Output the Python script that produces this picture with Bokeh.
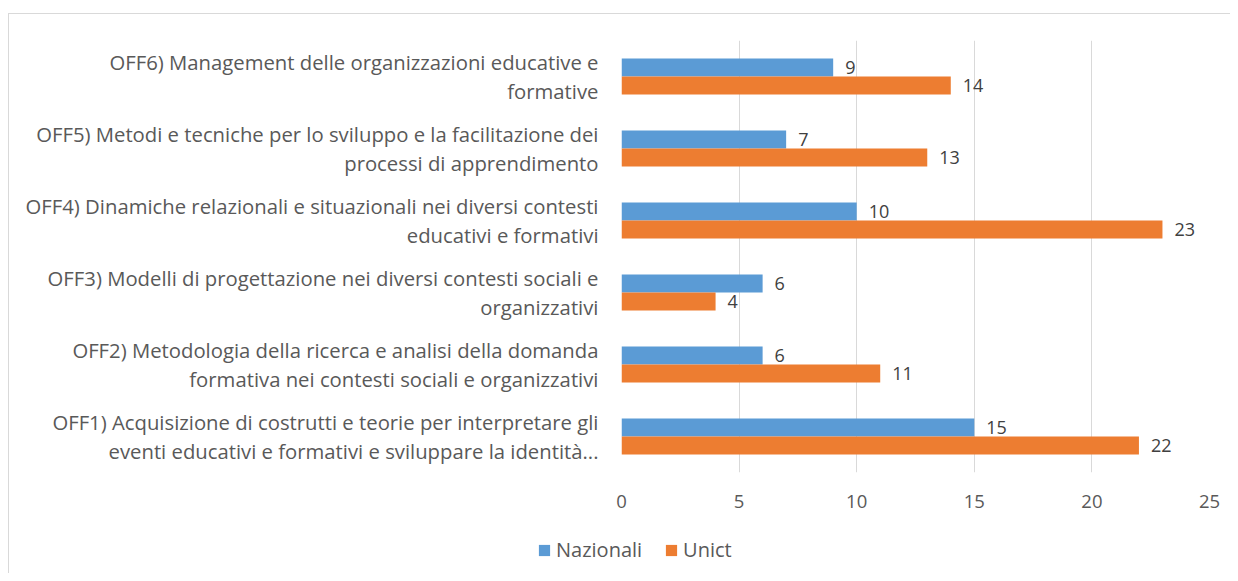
from bokeh.plotting import figure
from bokeh.models import ColumnDataSource, Legend, LegendItem, FactorRange, SingleIntervalTicker, InlineStyleSheet
from bokeh.transform import dodge
from bokeh.embed import file_html
from bokeh.resources import INLINE

categories = [
    "OFF1) Acquisizione di costrutti e teorie per interpretare gli\neventi educativi e formativi e sviluppare la identità...",
    "OFF2) Metodologia della ricerca e analisi della domanda\nformativa nei contesti sociali e organizzativi",
    "OFF3) Modelli di progettazione nei diversi contesti sociali e\norganizzativi",
    "OFF4) Dinamiche relazionali e situazionali nei diversi contesti\neducativi e formativi",
    "OFF5) Metodi e tecniche per lo sviluppo e la facilitazione dei\nprocessi di apprendimento",
    "OFF6) Management delle organizzazioni educative e\nformative",
]
nazionali = [15, 6, 6, 10, 7, 9]
unict = [22, 11, 4, 23, 13, 14]
series_names = ["Nazionali", "Unict"]
series_colors = ["#5B9BD5", "#ED7D31"]

FONT = "Open Sans"
TXT = "#595959"

src = ColumnDataSource(dict(
    cat=categories,
    naz=nazionali,
    uni=unict,
    naz_l=[str(v) for v in nazionali],
    uni_l=[str(v) for v in unict],
))

frame_css_top = InlineStyleSheet(css=":host::after{content:'';position:absolute;left:8px;top:13px;right:0;bottom:0;"
                                     "border-top:1px solid #d9d9d9;border-left:1px solid #d9d9d9;pointer-events:none;}")
frame_css_side = InlineStyleSheet(css=":host::after{content:'';position:absolute;left:8px;top:0;right:0;bottom:0;"
                                      "border-left:1px solid #d9d9d9;pointer-events:none;}")

p = figure(width=1230, height=525, output_backend="svg", toolbar_location=None,
           y_range=FactorRange(factors=categories, range_padding=0),
           x_range=(0, 25),
           min_border_left=621, min_border_right=21, min_border_top=40, min_border_bottom=53,
           stylesheets=[frame_css_top])

p.hbar(y=dodge("cat", 0.125, range=p.y_range), right="naz", left=0, height=0.25,
       source=src, fill_color=series_colors[0], line_color=None)
p.hbar(y=dodge("cat", -0.125, range=p.y_range), right="uni", left=0, height=0.25,
       source=src, fill_color=series_colors[1], line_color=None)

p.text(x="naz", y=dodge("cat", 0.125, range=p.y_range), text="naz_l", source=src,
       x_offset=12, text_baseline="middle", text_font_size="18px", text_color="#404040",
       text_font={"value": FONT})
p.text(x="uni", y=dodge("cat", -0.125, range=p.y_range), text="uni_l", source=src,
       x_offset=12, text_baseline="middle", text_font_size="18px", text_color="#404040",
       text_font={"value": FONT})

p.outline_line_color = None
p.background_fill_color = "white"
p.border_fill_color = "white"

# x axis
p.xaxis.ticker = SingleIntervalTicker(interval=5)
p.xaxis.axis_line_color = None
p.xaxis.major_tick_line_color = None
p.xaxis.minor_tick_line_color = None
p.xaxis.major_label_text_font = FONT
p.xaxis.major_label_text_font_size = "18.5px"
p.xaxis.major_label_text_color = TXT
p.xaxis.major_label_standoff = 16

# y axis
p.yaxis.axis_line_color = None
p.yaxis.major_tick_line_color = None
p.yaxis.minor_tick_line_color = None
p.yaxis.major_label_text_font = FONT
p.yaxis.major_label_text_font_size = "20.3px"
p.yaxis.major_label_text_line_height = 1.06
p.yaxis.major_label_text_color = TXT
p.yaxis.major_label_standoff = 17

p.xgrid.grid_line_color = "#d9d9d9"
p.xgrid.ticker = SingleIntervalTicker(interval=5)
p.ygrid.grid_line_color = None

# legend strip below the chart (separate root, so its frame spans the full width)
lg = figure(width=1230, height=48, output_backend="svg", toolbar_location=None,
            x_axis_location=None, y_axis_location=None,
            min_border_left=0, min_border_right=0, min_border_top=0, min_border_bottom=0,
            stylesheets=[frame_css_side])
lg.outline_line_color = None
lg.xgrid.grid_line_color = None
lg.ygrid.grid_line_color = None
dummy = ColumnDataSource(dict(y=[0], r=[0]))
items = []
for name, col in zip(series_names, series_colors):
    rr = lg.hbar(y="y", right="r", left=0, height=0, source=dummy, fill_color=col, line_color=None)
    items.append(LegendItem(label=name, renderers=[rr]))
legend = Legend(items=items, orientation="horizontal", location=(537, 10),
                label_text_font=FONT, label_text_font_size="20px", label_text_color=TXT,
                glyph_width=14, glyph_height=14, label_standoff=5, spacing=22,
                padding=0, margin=0, border_line_color=None, background_fill_alpha=0)
lg.add_layout(legend, "center")

open("out.html", "w").write(file_html([p, lg], INLINE))
